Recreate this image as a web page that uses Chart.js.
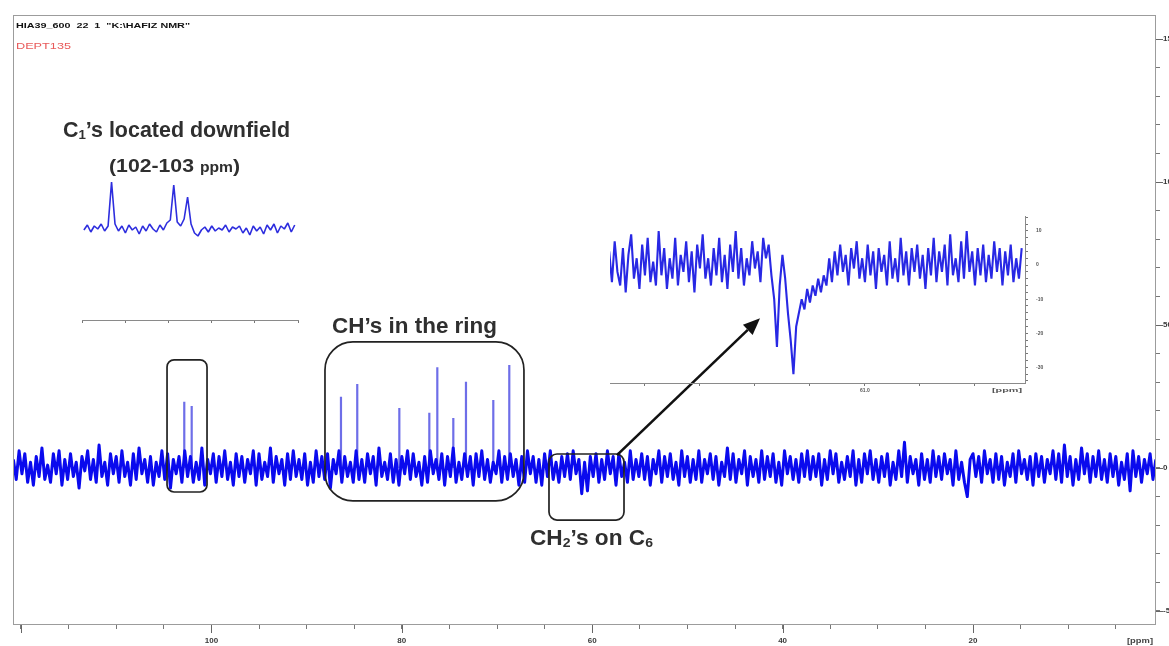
<!DOCTYPE html>
<html>
<head>
<meta charset="utf-8">
<title>DEPT135</title>
<script src="https://cdn.jsdelivr.net/npm/chart.js@4.4.0/dist/chart.umd.min.js"></script>
<style>
  html, body { margin: 0; padding: 0; background: #fff; }
  #wrap { position: relative; width: 1169px; height: 646px; overflow: hidden; background: #fff; }
  #wrap canvas { position: absolute; }
  .lbl { position: absolute; white-space: nowrap; font-family: "Liberation Sans", Arial, sans-serif;
         font-weight: bold; color: #2f2f2f; line-height: 1; transform-origin: 0 0; }
  .lbl sub { font-size: 0.62em; vertical-align: -0.12em; line-height: 0; }
</style>
</head>
<body>
<div id="wrap">
  <canvas id="main" width="1169" height="646" style="left:0;top:0"></canvas>
  <canvas id="inset1" width="228" height="165" style="left:80px;top:170px"></canvas>
  <canvas id="inset2" width="450" height="193" style="left:605px;top:205px"></canvas>

  <div class="lbl" data-w="174" style="left:16px;top:22px;font-size:7px;color:#111">HIA39_600&nbsp; 22&nbsp; 1&nbsp; &quot;K:\HAFIZ NMR&quot;</div>
  <div class="lbl" data-w="55" style="left:16px;top:42px;font-size:9px;font-weight:normal;color:#e85a5a">DEPT135</div>

  <div class="lbl" data-w="227" style="left:63px;top:119px;font-size:22px">C<sub>1</sub>’s located downfield</div>
  <div class="lbl" data-w="131" style="left:109px;top:156px;font-size:19px">(102-103 <span style="font-size:14px">ppm</span>)</div>
  <div class="lbl" data-w="165" style="left:332px;top:315px;font-size:22px">CH’s in the ring</div>
  <div class="lbl" data-w="123" style="left:530px;top:527px;font-size:22px">CH<sub>2</sub>’s on C<sub>6</sub></div>

  <div class="lbl" data-w="26" style="left:1127px;top:637px;font-size:8px;color:#444">[ppm]</div>
  <div class="lbl" data-w="30" style="left:992px;top:388px;font-size:5px;color:#555">[ppm]</div>
</div>

<script>
// ---------- main DEPT-135 trace ----------
// baseline samples start at noiseStartPpm and step downfield→upfield by noiseStepPpm
const noiseStartPpm = 120.8;
const noiseStepPpm = 0.3;
const noiseValues = [
  3,-4,6,-2,5,-5,2,-6,4,-3,7,-4,1,-5,5,-2,6,-6,3,-4,
  5,-3,2,-7,4,-1,6,-4,3,-5,8,-3,2,-6,5,-2,4,-5,6,-3,
  2,-6,5,-4,7,-2,3,-5,4,-6,2,-3,6,-4,5,-7,3,-2,4,-5,
  6,-3,4,-5,2,-4,7,-6,3,-2,5,-5,4,-3,6,-4,2,-6,5,-3,
  4,-5,3,-2,6,-6,5,-4,2,-3,7,-5,4,-2,3,-6,5,-4,6,-3,
  3,-4,5,-6,2,-5,6,-3,4,-4,5,-7,3,-2,6,-5,4,-3,2,-5,
  6,-4,3,-5,5,-2,4,-6,7,-3,2,-4,5,-5,3,-6,4,-2,6,-4,
  5,-3,2,-6,4,-5,6,-2,3,-4,5,-6,4,-3,7,-5,2,-4,5,-3,
  4,-6,5,-3,6,-4,3,-5,2,-2,6,-5,4,-4,5,-3,3,-6,4,-5,
  6,-2,4,-5,3,-6,5,-3,6,-4,2,-5,4,-3,5,-4,6,-2,3,-9,
  2,-8,4,-3,5,-5,3,-4,6,-2,4,-6,5,-3,2,-5,6,-4,3,-3,
  5,-4,4,-6,3,-2,6,-5,4,-3,5,-4,2,-6,6,-3,4,-5,3,-4,
  6,-5,3,-2,5,-4,4,-6,2,-3,7,-4,5,-5,3,-2,6,-6,4,-3,
  3,-5,6,-4,4,-3,5,-5,2,-6,6,-2,4,-4,3,-5,5,-3,6,-4,
  4,-3,5,-6,3,-4,6,-2,5,-5,2,-4,4,-3,6,-6,3,-5,5,-2,
  6,-4,3,-5,4,-3,5,-6,2,-4,6,-3,9,-5,4,-2,3,-6,5,-4,
  3,-5,6,-3,4,-4,5,-2,3,-6,6,-4,2,-5,-10,3,5,-3,4,-5,
  6,-2,3,-5,5,-4,4,-6,2,-3,5,-5,6,-2,3,-4,4,-6,5,-3,
  4,-5,3,-2,6,-4,5,-5,8,-3,4,-6,3,-4,7,-2,5,-5,4,-3,
  6,-4,3,-5,5,-3,4,-6,2,-4,5,-8,6,-3,4,-5,3,-2,5,-4,
  3
];

// resolved carbon lines (ppm) and their intensities
const peakPpm    = [102.85, 102.07, 86.39, 84.68, 80.26, 77.11, 76.27, 74.59, 73.26, 70.39, 68.71];
const peakHeight = [23.2,   21.7,   24.9,  29.4,  21.0,  19.3,  35.2,  17.5,  30.2,  23.8,  36.0];

const xTickLabels = [100, 80, 60, 40, 20];
const yTickLabels = [150, 100, 50, 0, -50];

// ---------- expansion: anomeric C1 region ----------
const c1StartPpm = 103.125;
const c1StepPpm = 0.02;
const c1Values = [
  -2,3,-4,2,-1,4,-3,2,
  46,4,
  -3,2,-5,3,-2,1,-6,2,-3,4,-1,-4,3,-2,5,8,
  43,6,2,9,31,4,-5,-8,
  -2,1,-4,2,-3,0,-2,3,-4,1,-1,2,-5,0,-7,2,-3,1,-6,3,-2,4,-5,2,-1,5,-4,3
];
const c1TickLabels = [102.5];

// ---------- expansion: C6 methylene region (negative in DEPT-135) ----------
const c6StartPpm = 61.93;
const c6StepPpm = 0.01;
const c6Values = [
  4,-5,7,-2,-6,5,-8,3,9,-4,2,-7,6,-3,8,-5,1,-6,10,-3,
  5,-7,2,-4,8,-6,3,-2,7,-5,4,-8,6,-1,9,-4,2,-6,5,-3,
  8,-5,3,-7,6,-2,10,-4,5,-6,2,-3,7,-1,4,-5,8,2,6,-3,
  -10,-24,-6,3,-4,-14,-22,-32,-18,-14,
  -10,-13,-7,-11,-6,-9,-4,-8,-3,-6,
  2,-5,4,-3,6,-2,3,-6,5,-1,7,-4,2,-5,6,-3,4,-7,5,-2,
  3,-6,7,-4,2,-5,8,-3,4,-6,5,-2,6,-4,3,-7,5,-3,8,-5,
  4,-2,6,-6,9,-3,2,-5,7,-4,10,-2,4,-6,5,-3,6,-5,3,-4,
  7,-2,5,-6,4,-3,6,-5,2,-4,5
];
const c6TickLabels = [61.0];
const c6YTickLabels = [10, 0, -10, -20, -30];

// ---------- build point lists ----------
const noisePoints = noiseValues.map((v, i) => ({ x: noiseStartPpm - i * noiseStepPpm, y: v }));
const peakPoints = [];
peakPpm.forEach((p, i) => {
  peakPoints.push({ x: p, y: 0 }, { x: p, y: peakHeight[i] }, { x: p, y: null });
});
const c1Points = c1Values.map((v, i) => ({ x: c1StartPpm - i * c1StepPpm, y: v }));
const c6Points = c6Values.map((v, i) => ({ x: c6StartPpm - i * c6StepPpm, y: v }));

const near = (v, list) => list.find(t => Math.abs(t - v) < 1e-6);
const axisFont = { family: '"Liberation Sans", Arial, sans-serif', weight: 'bold' };

// frame, region boxes and pointer arrow for the full spectrum (in ppm / intensity units)
const notes = {
  boxes: [
    { from: 104.66, to: 100.46, top: 37.8, bottom: -8.4, r: 7 },
    { from: 88.07, to: 67.17, top: 44.1, bottom: -11.5, r: 28 },
    { from: 64.54, to: 56.66, top: 4.9, bottom: -18.2, r: 8 }
  ],
  arrow: { x0: 57.4, y0: 4.5, x1: 42.37, y1: 52.4 }
};

const frameAndNotes = {
  id: 'frameAndNotes',
  afterDatasetsDraw(chart) {
    const { ctx, chartArea: a, scales: { x, y } } = chart;
    ctx.save();
    ctx.strokeStyle = '#9c9c9c';
    ctx.lineWidth = 1;
    ctx.strokeRect(a.left + 0.5, a.top + 0.5, a.right - a.left - 1, a.bottom - a.top - 1);

    // longer marks on labelled ppm ticks
    ctx.strokeStyle = '#666';
    xTickLabels.concat([120]).forEach(v => {
      const px = Math.round(x.getPixelForValue(v)) + 0.5;
      ctx.beginPath(); ctx.moveTo(px, a.bottom); ctx.lineTo(px, a.bottom + 8); ctx.stroke();
    });
    yTickLabels.forEach(v => {
      const py = Math.round(y.getPixelForValue(v)) + 0.5;
      ctx.beginPath(); ctx.moveTo(a.right, py); ctx.lineTo(a.right + 7, py); ctx.stroke();
    });

    ctx.strokeStyle = '#222';
    ctx.lineWidth = 1.7;
    notes.boxes.forEach(b => {
      const x0 = x.getPixelForValue(b.from), x1 = x.getPixelForValue(b.to);
      const y0 = y.getPixelForValue(b.top), y1 = y.getPixelForValue(b.bottom);
      ctx.beginPath();
      ctx.roundRect(x0, y0, x1 - x0, y1 - y0, b.r);
      ctx.stroke();
    });

    const ar = notes.arrow;
    const ax0 = x.getPixelForValue(ar.x0), ay0 = y.getPixelForValue(ar.y0);
    const ax1 = x.getPixelForValue(ar.x1), ay1 = y.getPixelForValue(ar.y1);
    const ang = Math.atan2(ay1 - ay0, ax1 - ax0);
    const headLen = 17, headHalf = 7;
    const bx = ax1 - headLen * Math.cos(ang), by = ay1 - headLen * Math.sin(ang);
    ctx.strokeStyle = '#111';
    ctx.fillStyle = '#111';
    ctx.lineWidth = 2.6;
    ctx.beginPath(); ctx.moveTo(ax0, ay0); ctx.lineTo(bx, by); ctx.stroke();
    ctx.beginPath();
    ctx.moveTo(ax1, ay1);
    ctx.lineTo(bx + headHalf * Math.sin(ang), by - headHalf * Math.cos(ang));
    ctx.lineTo(bx - headHalf * Math.sin(ang), by + headHalf * Math.cos(ang));
    ctx.closePath();
    ctx.fill();
    ctx.restore();
  }
};

new Chart(document.getElementById('main'), {
  type: 'line',
  data: {
    datasets: [
      { data: noisePoints, borderColor: 'rgb(10,10,238)', borderWidth: 3, pointRadius: 0, tension: 0, borderJoinStyle: 'round' },
      { data: peakPoints, borderColor: 'rgba(85,85,228,0.85)', borderWidth: 2.2, pointRadius: 0, spanGaps: false }
    ]
  },
  options: {
    responsive: false,
    animation: false,
    devicePixelRatio: 1,
    events: [],
    plugins: { legend: { display: false }, tooltip: { enabled: false } },
    layout: { padding: { left: 13, top: 15, right: 0, bottom: 0 } },
    scales: {
      x: {
        type: 'linear', reverse: true, min: 0.78, max: 120.84,
        afterFit: s => { s.height = 21; },
        border: { display: false },
        grid: { drawOnChartArea: false, drawTicks: true, tickLength: 4, color: '#777' },
        ticks: {
          stepSize: 5, autoSkip: false, includeBounds: false, maxRotation: 0, minRotation: 0,
          padding: 7, color: '#3a3a3a', font: { ...axisFont, size: 8 },
          callback: v => (near(v, xTickLabels) !== undefined ? String(near(v, xTickLabels)) : '')
        }
      },
      y: {
        type: 'linear', position: 'right', min: -54.9, max: 158.4,
        afterFit: s => { s.width = 13; },
        border: { display: false },
        grid: { drawOnChartArea: false, drawTicks: true, tickLength: 4, color: '#777' },
        ticks: {
          stepSize: 10, autoSkip: false, includeBounds: false, padding: 3,
          color: '#3a3a3a', font: { ...axisFont, size: 8 },
          callback: v => (near(v, yTickLabels) !== undefined ? String(near(v, yTickLabels)) : '')
        }
      }
    }
  },
  plugins: [frameAndNotes]
});

// anomeric expansion
new Chart(document.getElementById('inset1'), {
  type: 'line',
  data: { datasets: [{ data: c1Points, borderColor: 'rgb(45,45,222)', borderWidth: 1.6, pointRadius: 0, tension: 0, borderJoinStyle: 'bevel' }] },
  options: {
    responsive: false, animation: false, devicePixelRatio: 1, events: [],
    plugins: { legend: { display: false }, tooltip: { enabled: false } },
    layout: { padding: { left: 0, top: 5, right: 10, bottom: 0 } },
    scales: {
      x: {
        type: 'linear', reverse: true, min: 101.886, max: 103.136,
        afterFit: s => { s.height = 15; },
        border: { display: true, color: '#8a8a8a', width: 1 },
        grid: { drawOnChartArea: false, tickLength: 3, color: '#777' },
        ticks: {
          stepSize: 0.25, autoSkip: false, includeBounds: false, maxRotation: 0, padding: 2,
          color: '#555', font: { ...axisFont, size: 5 },
          callback: v => (near(v, c1TickLabels) !== undefined ? near(v, c1TickLabels).toFixed(1) : '')
        }
      },
      y: { display: false, min: -92, max: 53 }
    }
  }
});

// C6 expansion
new Chart(document.getElementById('inset2'), {
  type: 'line',
  data: { datasets: [{ data: c6Points, borderColor: 'rgb(40,40,228)', borderWidth: 2.1, pointRadius: 0, tension: 0, borderJoinStyle: 'bevel' }] },
  options: {
    responsive: false, animation: false, devicePixelRatio: 1, events: [],
    plugins: { legend: { display: false }, tooltip: { enabled: false } },
    layout: { padding: { left: 5, top: 8, right: 0, bottom: 0 } },
    scales: {
      x: {
        type: 'linear', reverse: true, min: 60.418, max: 61.927,
        afterFit: s => { s.height = 15; },
        border: { display: true, color: '#8a8a8a', width: 1 },
        grid: { drawOnChartArea: false, tickLength: 3, color: '#777' },
        ticks: {
          stepSize: 0.2, autoSkip: false, includeBounds: false, maxRotation: 0, padding: 2,
          color: '#555', font: { ...axisFont, size: 5 },
          callback: v => (near(v, c6TickLabels) !== undefined ? near(v, c6TickLabels).toFixed(1) : '')
        }
      },
      y: {
        type: 'linear', position: 'right', min: -34.6, max: 14.4,
        afterFit: s => { s.width = 30; },
        border: { display: true, color: '#8a8a8a', width: 1 },
        grid: { drawOnChartArea: false, tickLength: 3, color: '#777' },
        ticks: {
          stepSize: 2, autoSkip: false, includeBounds: false, padding: 8,
          color: '#555', font: { ...axisFont, size: 5 },
          callback: v => (near(v, c6YTickLabels) !== undefined ? String(near(v, c6YTickLabels)) : '')
        }
      }
    }
  }
});

// squeeze each annotation to its condensed set width
document.querySelectorAll('.lbl[data-w]').forEach(el => {
  const w = el.getBoundingClientRect().width;
  if (w > 0) el.style.transform = 'scaleX(' + (Number(el.dataset.w) / w) + ')';
});
</script>
</body>
</html>
